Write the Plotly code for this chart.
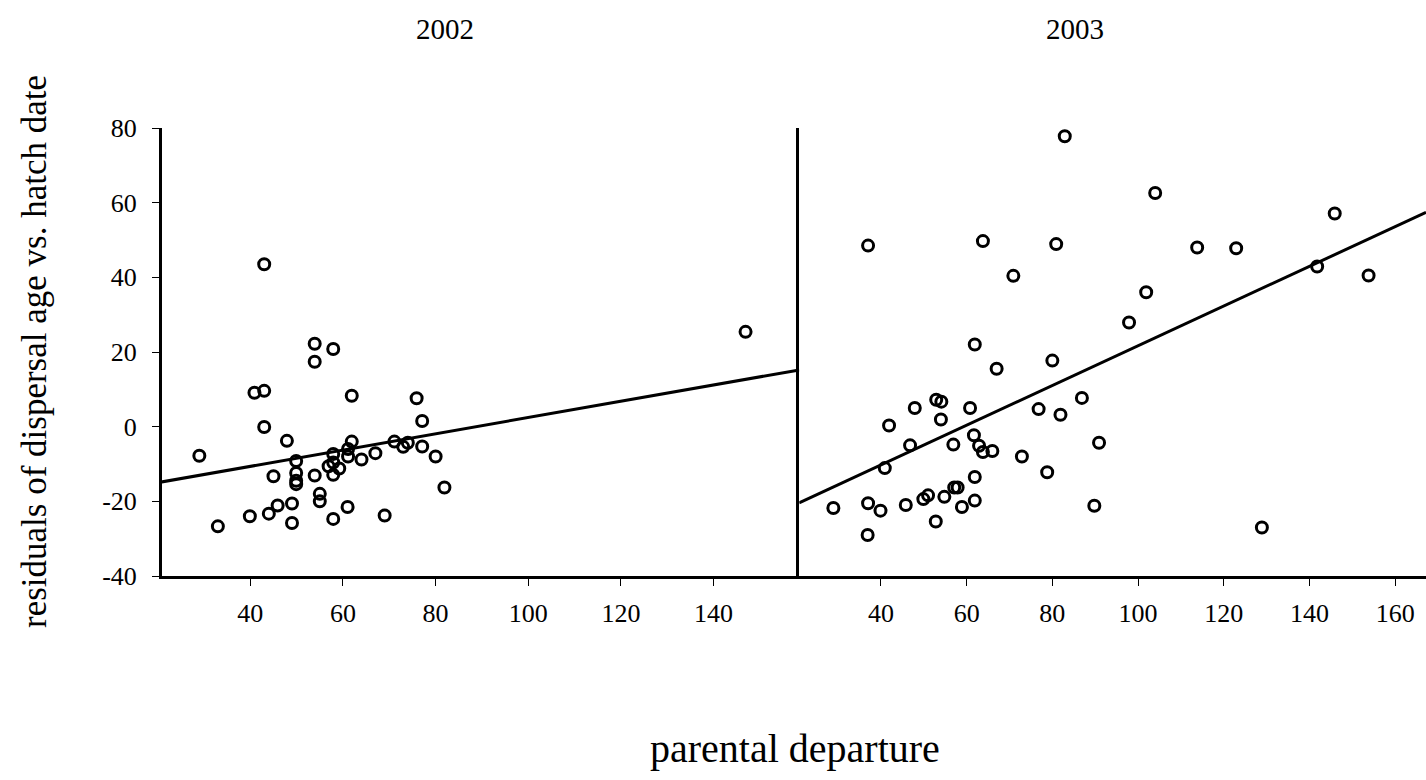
import plotly.graph_objects as go
from plotly.subplots import make_subplots

# 2002 season: parental departure vs residual dispersal age
dep_2002 = [43.0, 53.9, 57.9, 53.9, 40.9, 43.0, 61.9, 75.9, 77.1, 43.0,
            47.9, 29.0, 61.9, 61.1, 57.9, 61.1, 71.1, 74.0, 73.0, 77.1,
            67.0, 80.0, 64.0, 49.9, 57.9, 56.9, 59.2, 57.9, 49.9, 45.0,
            53.9, 49.9, 49.9, 81.9, 55.0, 55.0, 49.0, 45.9, 61.0, 44.0,
            39.9, 69.0, 57.9, 49.0, 33.0, 146.9]
res_2002 = [43.5, 22.2, 20.8, 17.4, 9.1, 9.6, 8.3, 7.6, 1.5, -0.1,
            -3.8, -7.8, -4.0, -6.0, -7.3, -8.0, -4.0, -4.3, -5.4, -5.3,
            -7.1, -8.0, -8.8, -9.2, -9.6, -10.6, -11.2, -12.9, -12.4, -13.3,
            -13.1, -14.5, -15.4, -16.3, -18.0, -20.0, -20.6, -21.1, -21.5, -23.3,
            -24.0, -23.8, -24.7, -25.8, -26.7, 25.4]

# 2003 season
dep_2003 = [82.9, 37.0, 63.8, 80.9, 70.9, 104.0, 145.9, 113.8, 122.9, 141.8,
            153.8, 101.9, 97.9, 128.9, 61.9, 67.0, 80.0, 52.9, 54.1, 47.9,
            60.8, 86.9, 76.8, 81.9, 41.9, 54.0, 61.7, 46.8, 56.9, 62.9,
            63.8, 66.0, 72.9, 90.9, 40.9, 78.8, 61.9, 57.1, 57.9, 51.0,
            49.9, 54.8, 45.8, 37.0, 39.9, 28.9, 58.9, 61.9, 89.8, 52.8,
            36.9]
res_2003 = [77.8, 48.5, 49.7, 48.9, 40.4, 62.6, 57.1, 48.0, 47.8, 42.9,
            40.5, 36.0, 27.9, -27.0, 22.0, 15.5, 17.7, 7.2, 6.7, 5.0,
            5.0, 7.7, 4.7, 3.2, 0.3, 1.9, -2.3, -5.0, -4.8, -5.1,
            -6.8, -6.5, -8.0, -4.3, -11.1, -12.2, -13.5, -16.3, -16.3, -18.4,
            -19.4, -18.8, -21.0, -20.5, -22.5, -21.8, -21.5, -19.8, -21.2, -25.4,
            -29.0]

# fitted regression lines (endpoints at the axis limits)
fit_2002_x = [20.9, 158.5]
fit_2002_y = [-14.8, 15.2]
fit_2003_x = [20.9, 167.2]
fit_2003_y = [-20.4, 57.4]

x_ticks_2002 = [40, 60, 80, 100, 120, 140]
x_ticks_2003 = [40, 60, 80, 100, 120, 140, 160]
y_ticks = [-40, -20, 0, 20, 40, 60, 80]
y_tick_text = ["-40", "-20", "0", "20", "40", "60", "80"]

FONT = "Liberation Serif"
W, H = 1426, 780
ML, MR, MT, MB = 162, 0, 128, 204
split = (799.3 - ML) / (W - ML - MR)

fig = make_subplots(rows=1, cols=2, shared_yaxes=True, horizontal_spacing=0,
                    column_widths=[split, 1 - split])

marker = dict(symbol="circle-open", size=11, color="black",
              line=dict(color="black", width=3))

fig.add_trace(go.Scatter(x=dep_2002, y=res_2002, mode="markers", marker=marker,
                         showlegend=False), row=1, col=1)
fig.add_trace(go.Scatter(x=fit_2002_x, y=fit_2002_y, mode="lines",
                         line=dict(color="black", width=3), showlegend=False),
              row=1, col=1)
fig.add_trace(go.Scatter(x=dep_2003, y=res_2003, mode="markers", marker=marker,
                         showlegend=False), row=1, col=2)
fig.add_trace(go.Scatter(x=fit_2003_x, y=fit_2003_y, mode="lines",
                         line=dict(color="black", width=3), showlegend=False),
              row=1, col=2)

tick_font = dict(family=FONT, size=26, color="black")
xcommon = dict(showline=True, linecolor="black", linewidth=3, ticks="outside",
               ticklen=7, tickwidth=1.3, tickcolor="black", showgrid=False,
               zeroline=False, tickfont=tick_font, ticklabelstandoff=5)

fig.update_xaxes(range=[20.94, 158.5], tickvals=x_ticks_2002, **xcommon, row=1, col=1)
fig.update_xaxes(range=[20.95, 167.2], tickvals=x_ticks_2003, **xcommon, row=1, col=2)

fig.update_yaxes(range=[-40, 80], tickvals=y_ticks, ticktext=y_tick_text,
                 showline=True, linecolor="black", linewidth=3, ticks="outside",
                 ticklen=7, tickwidth=1.3, tickcolor="black", showgrid=False,
                 zeroline=False, tickfont=tick_font, ticklabelstandoff=10,
                 row=1, col=1)
fig.update_yaxes(range=[-40, 80], showline=True, linecolor="black", linewidth=3,
                 ticks="", showticklabels=False, showgrid=False, zeroline=False,
                 row=1, col=2)

pw, ph = W - ML - MR, H - MT - MB


def px(xp):
    return (xp - ML) / pw


def py(yp):
    return (H - MB - yp) / ph


annotations = [
    dict(text="2002", x=px(445), y=py(29)),
    dict(text="2003", x=px(1075), y=py(29)),
]
for a in annotations:
    fig.add_annotation(xref="paper", yref="paper", showarrow=False,
                       xanchor="center", yanchor="middle",
                       font=dict(family=FONT, size=29, color="black"), **a)

fig.add_annotation(text="parental departure", xref="paper", yref="paper",
                   x=px(795), y=py(748), showarrow=False, xanchor="center",
                   yanchor="middle", font=dict(family=FONT, size=40, color="black"))
fig.add_annotation(text="residuals of dispersal age vs. hatch date", xref="paper",
                   yref="paper", x=px(34), y=py(352), showarrow=False, textangle=-90,
                   xanchor="center", yanchor="middle",
                   font=dict(family=FONT, size=35, color="black"))

fig.update_layout(width=W, height=H, margin=dict(l=ML, r=MR, t=MT, b=MB),
                  plot_bgcolor="white", paper_bgcolor="white", showlegend=False)

fig.write_html("out.html")
